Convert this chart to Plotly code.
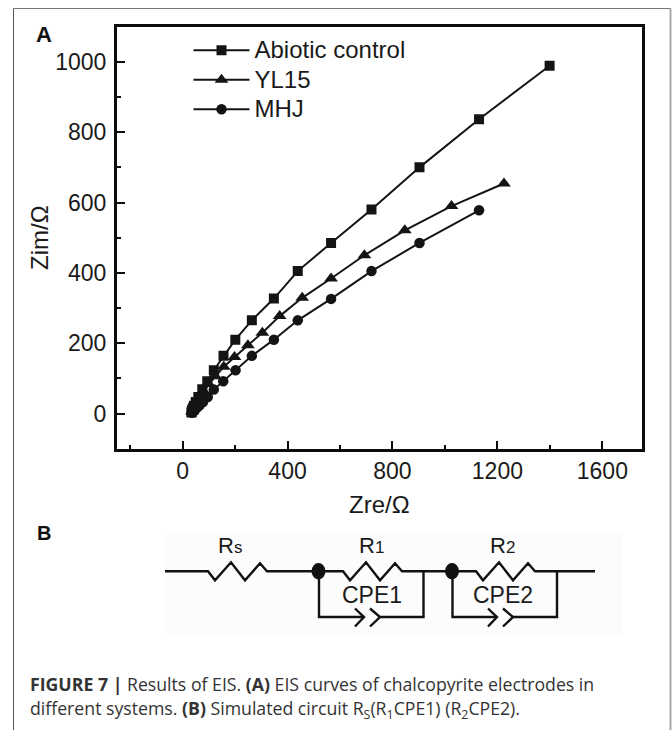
import plotly.graph_objects as go

W, H = 672, 730

series_names = ["Abiotic control", "YL15", "MHJ"]
abiotic_x = [1399, 1130, 903, 720, 566, 439, 348, 264, 201, 156, 119, 94, 75, 60, 50, 43, 39, 36, 35, 34]
abiotic_y = [989, 837, 700, 580, 485, 405, 327, 265, 210, 164, 123, 92, 69, 47, 33, 22, 15, 9, 6, 3]
yl15_x = [1225, 1025, 847, 693, 566, 456, 370, 304, 249, 198, 157, 125, 100, 80, 65, 54, 46, 41, 38, 36]
yl15_y = [654, 590, 521, 450, 384, 329, 277, 230, 194, 161, 133, 106, 84, 64, 47, 34, 24, 15, 9, 5]
mhj_x = [1130, 903, 720, 566, 439, 348, 264, 202, 155, 119, 96, 78, 64, 54, 47, 42, 39, 37, 36]
mhj_y = [578, 485, 405, 326, 265, 210, 164, 123, 92, 68, 47, 33, 23, 16, 11, 8, 6, 4, 2]

x_ticks = [0, 400, 800, 1200, 1600]
y_ticks = [0, 200, 400, 600, 800, 1000]

INK = "#141414"
FONT = "Liberation Sans, Arial, sans-serif"


def px(x):
    return x / W


def py(y):
    return 1 - y / H


def polyline(points, width=2.4, color="#111"):
    d = "M " + " L ".join(f"{px(x):.5f},{py(y):.5f}" for x, y in points)
    return dict(type="path", xref="paper", yref="paper", path=d, layer="above",
                line=dict(color=color, width=width))


def label(x, y, text, size, color="#1a1a1a", family=FONT, anchor="center"):
    return dict(xref="paper", yref="paper", x=px(x), y=py(y), text=text, showarrow=False,
                xanchor=anchor, yanchor="middle", align="left",
                font=dict(size=size, color=color, family=family))


def zigzag(x0, wire):
    return [(x0, wire), (x0 + 7, wire + 9), (x0 + 23, wire - 9), (x0 + 37, wire + 9),
            (x0 + 52, wire - 8), (x0 + 59, wire)]


fig = go.Figure()
for name, xs, ys, sym, size in [
    (series_names[0], abiotic_x, abiotic_y, "square", 10),
    (series_names[1], yl15_x, yl15_y, "triangle-up", 12),
    (series_names[2], mhj_x, mhj_y, "circle", 10.5),
]:
    fig.add_trace(go.Scatter(x=xs, y=ys, mode="lines+markers",
                             name=f"<span style='font-size:24px'>{name}</span>",
                             line=dict(color=INK, width=2),
                             marker=dict(symbol=sym, size=size, color=INK)))

axis = dict(showgrid=False, zeroline=False, showline=True, mirror=True, linecolor="#0c0c0c", linewidth=3,
            ticks="inside", ticklen=8, tickwidth=2, tickcolor="#0c0c0c",
            tickfont=dict(size=23, color="#1a1a1a", family=FONT))

fig.update_layout(
    width=W, height=H, autosize=False, margin=dict(l=0, r=0, t=0, b=0),
    paper_bgcolor="white", plot_bgcolor="white", font=dict(family=FONT),
    xaxis=dict(axis, domain=[px(117), px(641.7)], range=[-250, 1750], tickvals=x_ticks,
               minor=dict(dtick=200, tick0=0, ticks="inside", ticklen=4, tickwidth=2, tickcolor="#0c0c0c"),
               title=dict(text="Zre/Ω", font=dict(size=24, color="#1a1a1a"), standoff=13)),
    yaxis=dict(axis, domain=[py(448.7), py(26.7)], range=[-100, 1100], tickvals=y_ticks,
               ticklabelstandoff=3,
               minor=dict(dtick=100, tick0=0, ticks="inside", ticklen=4, tickwidth=2, tickcolor="#0c0c0c"),
               title=dict(text="Zim/Ω", font=dict(size=24, color="#1a1a1a"), standoff=0)),
    legend=dict(x=px(188.5), y=py(30.5), xanchor="left", yanchor="top", bgcolor="rgba(0,0,0,0)",
                font=dict(size=20.4, color="#1a1a1a", family=FONT), itemwidth=56, tracegroupgap=0,
                traceorder="normal"),
)

wire = 571.3
shapes = [
    # page frame
    dict(type="line", xref="paper", yref="paper", x0=px(13.5), x1=px(13.5), y0=py(8.5), y1=py(730),
         line=dict(color="#555", width=1), layer="below"),
    dict(type="line", xref="paper", yref="paper", x0=px(13.5), x1=px(670.5), y0=py(8.5), y1=py(8.5),
         line=dict(color="#777", width=1), layer="below"),
    dict(type="line", xref="paper", yref="paper", x0=px(670.5), x1=px(670.5), y0=py(8.5), y1=py(730),
         line=dict(color="#a8a8a8", width=2), layer="below"),
    # circuit backdrop
    dict(type="rect", xref="paper", yref="paper", x0=px(165), x1=px(622), y0=py(532), y1=py(636),
         line=dict(width=0), fillcolor="#fcfcfc", layer="below"),
    # main wire with resistors
    polyline([(165, wire)] + zigzag(208, wire) + [(318, wire), (343, wire)] + zigzag(343, wire)
             + [(452, wire), (476, wire)] + zigzag(476, wire) + [(595, wire)]),
    # parallel branches
    polyline([(319, wire), (319, 617), (364, 617)]),
    polyline([(380, 617), (423.5, 617), (423.5, wire)]),
    polyline([(452.5, wire), (452.5, 617), (497, 617)]),
    polyline([(513, 617), (557, 617), (557, wire)]),
    # constant phase element chevrons
    polyline([(355, 608.5), (364, 617), (355, 626.5)]),
    polyline([(370, 608.5), (380, 617), (370, 626.5)]),
    polyline([(488, 608.5), (497, 617), (488, 626.5)]),
    polyline([(503, 608.5), (513, 617), (503, 626.5)]),
    # nodes
    dict(type="circle", xref="paper", yref="paper", x0=px(311.5), x1=px(325.5), y0=py(563), y1=py(579.5),
         fillcolor="#111", line=dict(width=0), layer="above"),
    dict(type="circle", xref="paper", yref="paper", x0=px(445), x1=px(459), y0=py(563), y1=py(579.5),
         fillcolor="#111", line=dict(width=0), layer="above"),
]

CAPTION = "Open Sans, sans-serif"
annotations = [
    label(44, 34, "<b>A</b>", 22, color="#111"),
    label(44, 533, "<b>B</b>", 20, color="#111"),
    label(230, 545, "R<span style='font-size:17px'>s</span>", 22),
    label(371, 545, "R<span style='font-size:17px'>1</span>", 22),
    label(502, 545, "R<span style='font-size:17px'>2</span>", 22),
    label(372, 595, "CPE1", 23),
    label(503.5, 595, "CPE2", 23),
    label(28, 684, "<b>FIGURE 7 |</b> Results of EIS. <b>(A)</b> EIS curves of chalcopyrite electrodes in",
          17.7, color="#333", family=CAPTION, anchor="left"),
    label(28, 709, "different systems. <b>(B)</b> Simulated circuit R<sub>S</sub>(R<sub>1</sub>CPE1) (R<sub>2</sub>CPE2).",
          17.7, color="#333", family=CAPTION, anchor="left"),
]
fig.update_layout(shapes=shapes, annotations=annotations)

fig.write_html("out.html", config={"displayModeBar": False},
               post_script="document.body.style.margin='0';")
